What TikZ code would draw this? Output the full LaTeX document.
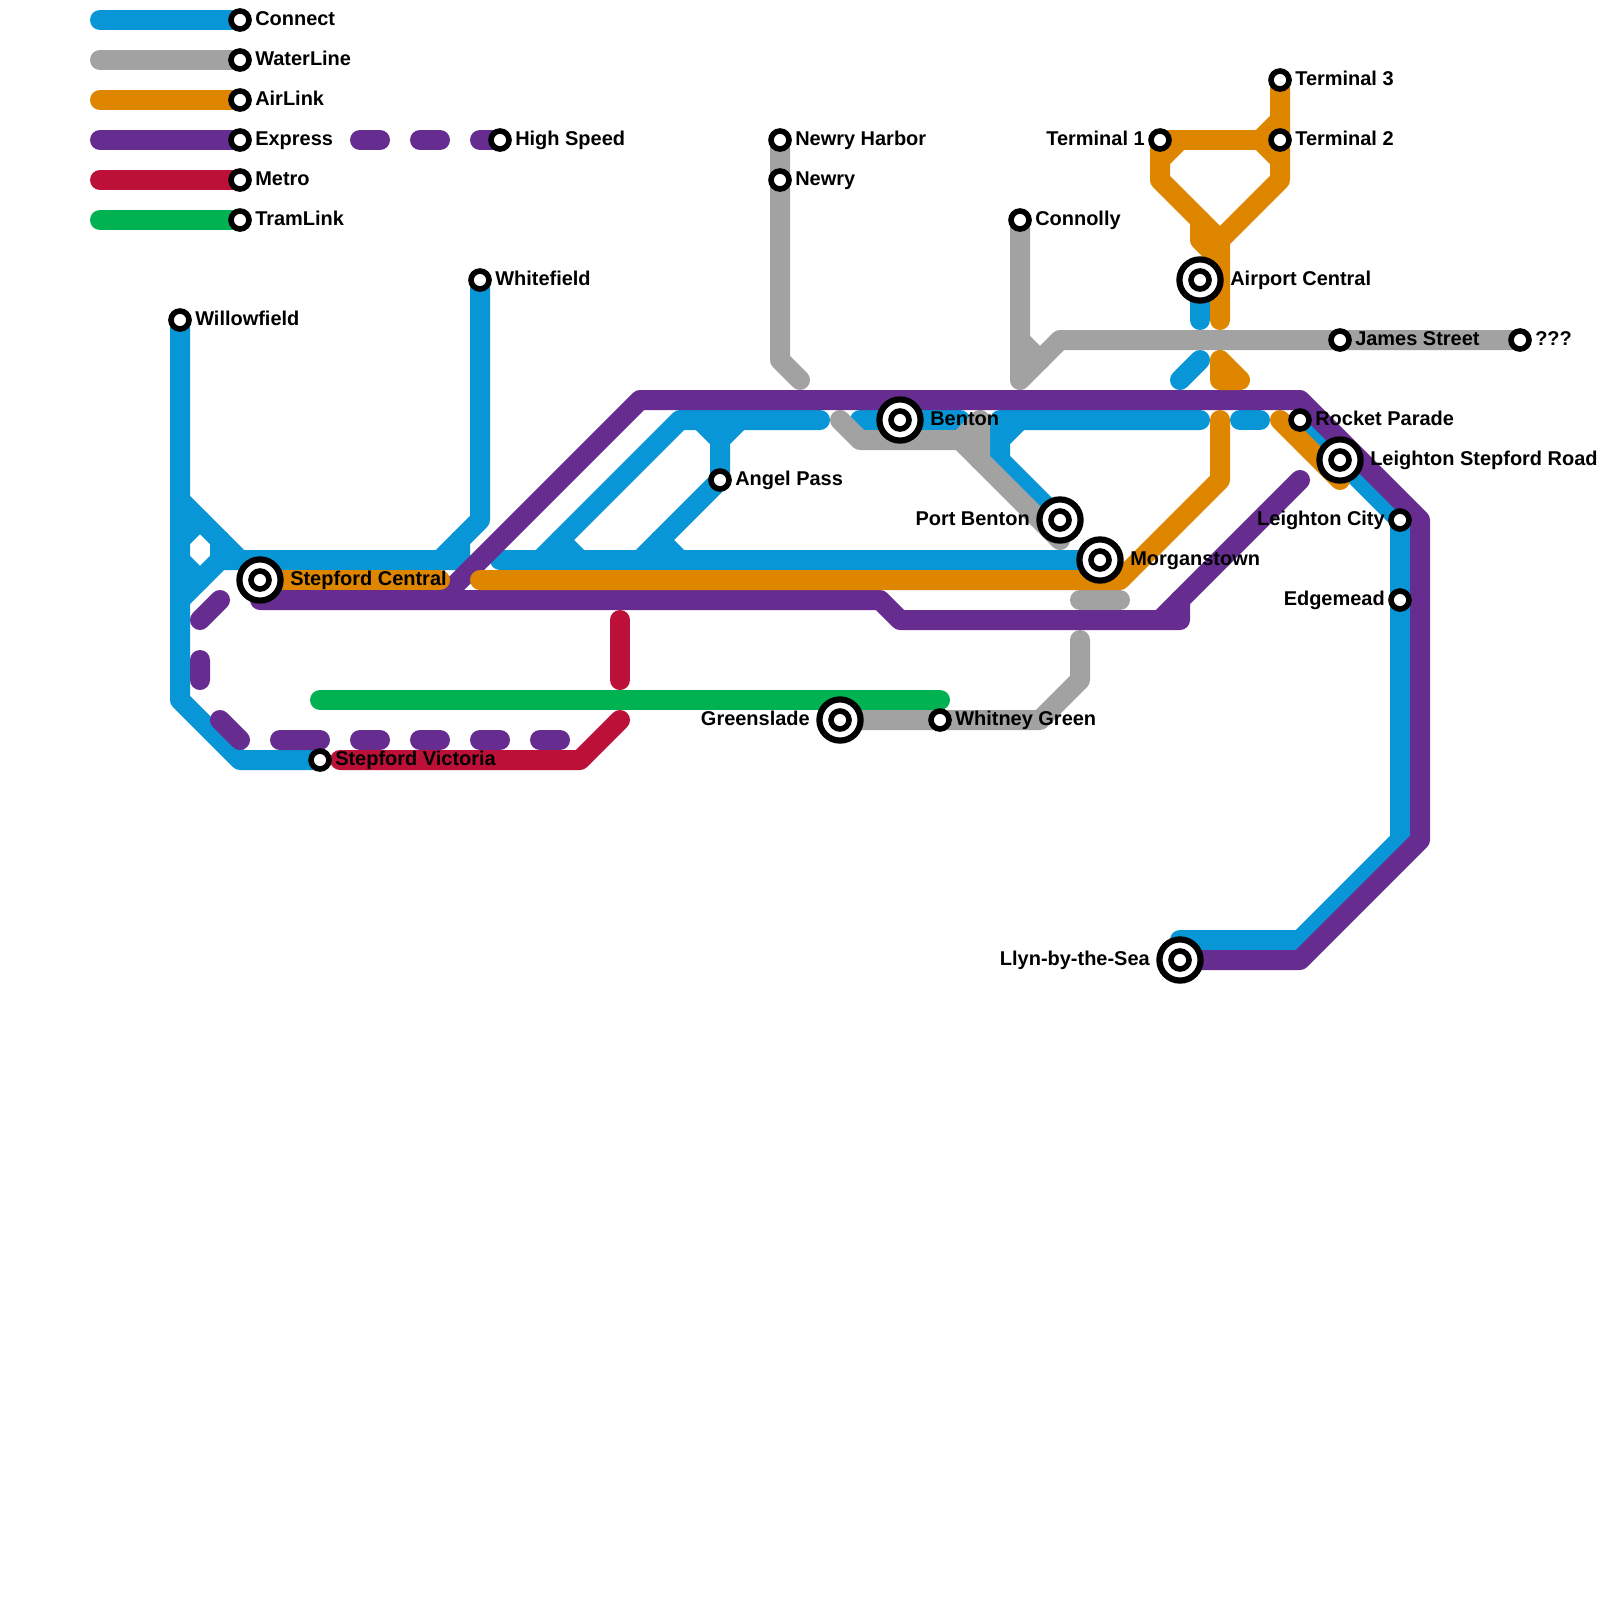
\documentclass[tikz,border=0pt]{standalone}
\usepackage{fontspec}
\setmainfont{Liberation Sans}
\usetikzlibrary{backgrounds}
\definecolor{connectblue}{HTML}{0896D7}
\definecolor{watergray}{HTML}{A2A2A2}
\definecolor{airorange}{HTML}{DF8600}
\definecolor{expresspurple}{HTML}{662C90}
\definecolor{metrored}{HTML}{BD1038}
\definecolor{tramgreen}{HTML}{00B251}
\tikzset{
    route/.style={line width=0.5cm, line cap=round, line join=round},
    connect/.style={route, connectblue},
    waterline/.style={route, watergray},
    airlink/.style={route, airorange},
    express/.style={route, expresspurple},
    metro/.style={route, metrored},
    tramlink/.style={route, tramgreen},
    stn/.style={circle, draw=black, fill=white, line width=0.14cm, minimum size=0.45cm, inner sep=0pt},
    hubring/.style={circle, draw=black, fill=white, line width=0.155cm, minimum size=1.03cm, inner sep=0pt},
    lbl/.style={font=\bfseries\fontsize{14.2}{17}\selectfont, text=black, inner sep=0pt},
    lblright/.style={lbl, anchor=base west, shift={(0.75,0.25)}},
    lblleft/.style={lbl, anchor=base east, shift={(-0.75,0.25)}},
    hublblright/.style={lbl, anchor=base west, shift={(1.5,0.25)}},
    hublblleft/.style={lbl, anchor=base east, shift={(-1.5,0.25)}},
}
\begin{document}
\begin{tikzpicture}[x=0.5cm, y=-0.5cm]
    \useasboundingbox (0,0) rectangle (80,80);

    % 1. Stations with the label on the right
    \foreach \nm/\x/\y/\txt in {
        keyconnect/12/1/Connect, keywater/12/3/WaterLine, keyair/12/5/AirLink,
        keyexpress/12/7/Express, keyspeed/25/7/High Speed, keymetro/12/9/Metro,
        keytram/12/11/TramLink, willowfield/9/16/Willowfield, whitefield/24/14/Whitefield,
        angelpass/36/24/Angel Pass, stepfordvictoria/16/38/Stepford Victoria,
        newryharbor/39/7/Newry Harbor, newry/39/9/Newry, connolly/51/11/Connolly,
        terminaltwo/64/7/Terminal 2, terminalthree/64/4/Terminal 3,
        jamesstreet/67/17/James Street, unknownstn/76/17/???,
        rocketparade/65/21/Rocket Parade, whitneygreen/47/36/Whitney Green} {
        \node[stn] (\nm) at (\x,\y) {};
        \node[lblright] (\nm lbl) at (\x,\y) {\txt};
    }

    % 2. Stations with the label on the left
    \foreach \nm/\x/\y/\txt in {
        terminalone/58/7/Terminal 1, leightoncity/70/26/Leighton City, edgemead/70/30/Edgemead} {
        \node[stn] (\nm) at (\x,\y) {};
        \node[lblleft] (\nm lbl) at (\x,\y) {\txt};
    }

    % 3. Interchanges
    \foreach \nm/\x/\y/\txt in {
        stepfordcentral/13/29/Stepford Central, benton/45/21/Benton,
        morganstown/55/28/Morganstown, airportcentral/60/14/Airport Central,
        leightonstepford/67/23/Leighton Stepford Road} {
        \node[hubring] (\nm ring) at (\x,\y) {};
        \node[stn] (\nm) at (\x,\y) {};
        \node[hublblright] (\nm lbl) at (\x,\y) {\txt};
    }
    \foreach \nm/\x/\y/\txt in {
        portbenton/53/26/Port Benton, greenslade/42/36/Greenslade, llyn/59/48/Llyn-by-the-Sea} {
        \node[hubring] (\nm ring) at (\x,\y) {};
        \node[stn] (\nm) at (\x,\y) {};
        \node[hublblleft] (\nm lbl) at (\x,\y) {\txt};
    }

    \begin{scope}[on background layer]
        % 4. Connect
        \draw[connect] (5,1) -- (keyconnect.center);
        \draw[connect] (willowfield.center) -- (9,35) -- (12,38) -- (stepfordvictoria.center);
        \draw[connect] (9,25) -- (12,28);
        \draw[connect] (9,27) -- (10,26);
        \draw[connect] (9,28) -- (10,29);
        \draw[connect] (9,30) -- (11,28) -- (23,28) -- (23,27);
        \draw[connect] (11,27) -- (11,28);
        \draw[connect] (whitefield.center) -- (24,26) -- (22,28);
        \draw[connect] (25,28) -- (morganstown.center);
        \draw[connect] (27,28) -- (34,21) -- (41,21);
        \draw[connect] (28,27) -- (29,28);
        \draw[connect] (32,28) -- (angelpass.center) -- (36,22) -- (35,21);
        \draw[connect] (36,22) -- (37,21);
        \draw[connect] (33,27) -- (34,28);
        \draw[connect] (43,21) -- (48,21);
        \draw[connect] (60,21) -- (50,21) -- (50,23) -- (portbenton.center);
        \draw[connect] (50,22) -- (51,21);
        \draw[connect] (62,21) -- (63,21);
        \draw[connect] (59,19) -- (60,18);
        \draw[connect] (airportcentral.center) -- (60,16);
        \draw[connect] (rocketparade.center) -- (leightoncity.center) -- (70,42) -- (65,47) -- (59,47);

        % 5. WaterLine
        \draw[waterline] (5,3) -- (keywater.center);
        \draw[waterline] (newryharbor.center) -- (39,18) -- (40,19);
        \draw[waterline] (connolly.center) -- (51,19) -- (53,17) -- (unknownstn.center);
        \draw[waterline] (51,17) -- (52,18);
        \draw[waterline] (42,21) -- (43,22) -- (48,22) -- (53,27);
        \draw[waterline] (48,22) -- (49,21) -- (49,23);
        \draw[waterline] (54,30) -- (56,30);
        \draw[waterline] (54,32) -- (54,34) -- (52,36) -- (greenslade.center);

        % 6. Express and High Speed
        \draw[express] (5,7) -- (keyexpress.center);
        \draw[express] (18,7) -- (19,7) (21,7) -- (22,7) (24,7) -- (keyspeed.center);
        \draw[express] (13,30) -- (44,30) -- (45,31) -- (59,31) -- (59,30);
        \draw[express] (58,31) -- (65,24);
        \draw[express] (22,30) -- (32,20) -- (65,20) -- (71,26) -- (71,42) -- (65,48) -- (llyn.center);
        \draw[express] (10,31) -- (11,30) (10,33) -- (10,34) (11,36) -- (12,37) (14,37) -- (16,37);
        \draw[express] (18,37) -- (19,37) (21,37) -- (22,37) (24,37) -- (25,37) (27,37) -- (28,37);

        % 7. AirLink
        \draw[airlink] (5,5) -- (keyair.center);
        \draw[airlink] (stepfordcentral.center) -- (22,29);
        \draw[airlink] (24,29) -- (56,29) -- (61,24) -- (61,21);
        \draw[airlink] (61,16) -- (61,12) -- (64,9) -- (terminalthree.center);
        \draw[airlink] (terminalone.center) -- (58,9) -- (61,12);
        \draw[airlink] (terminalone.center) -- (terminaltwo.center);
        \draw[airlink] (59,7) -- (58,8);
        \draw[airlink] (63,7) -- (64,6);
        \draw[airlink] (63,7) -- (64,8);
        \draw[airlink] (60,11) -- (60,12) -- (61,13);
        \draw[airlink] (61,18) -- (61,19) -- (62,19) -- cycle;
        \draw[airlink] (64,21) -- (67,24);

        % 8. Metro
        \draw[metro] (5,9) -- (keymetro.center);
        \draw[metro] (17,38) -- (29,38) -- (31,36);
        \draw[metro] (31,31) -- (31,34);

        % 9. TramLink
        \draw[tramlink] (5,11) -- (keytram.center);
        \draw[tramlink] (16,35) -- (47,35);
    \end{scope}
\end{tikzpicture}
\end{document}
